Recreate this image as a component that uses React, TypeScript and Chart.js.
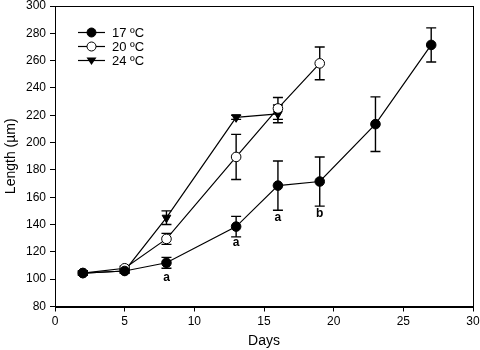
import React, { useEffect, useRef } from "react";
import { Chart, registerables } from "chart.js";

Chart.register(...registerables);

const days17 = [2, 5, 8, 13, 16, 19, 23, 27];
const len17 = [104.5, 106, 112, 138.5, 168.5, 171.5, 213.5, 271.5];
const err17 = [1.5, 1.5, 4, 7.5, 18, 18, 20, 12.5];

const days20 = [2, 5, 8, 13, 16, 19];
const len20 = [104.5, 108, 129.5, 189.5, 225, 258];
const err20 = [1.5, 1.5, 4, 16.5, 8, 12];

const days24 = [2, 5, 8, 13, 16];
const len24 = [104.5, 106, 145, 218.5, 221];
const err24 = [1.5, 1.5, 5, 1.5, 6.5];

const seriesNames = ["17 ºC", "20 ºC", "24 ºC"];

const letterDays = [8, 13, 16, 19];
const letterY = [101, 127, 145, 148];
const letterText = ["a", "a", "a", "b"];

const FONT = "'Liberation Sans', Arial, sans-serif";

const series = [
  { days: days17, len: len17, err: err17, style: "filled" },
  { days: days20, len: len20, err: err20, style: "open" },
  { days: days24, len: len24, err: err24, style: "tri" },
];

function drawMarker(ctx: CanvasRenderingContext2D, style: string, x: number, y: number) {
  ctx.save();
  ctx.lineWidth = 1;
  ctx.strokeStyle = "#000";
  if (style === "tri") {
    const r = 5;
    ctx.beginPath();
    ctx.moveTo(x - r, y - r * 0.6);
    ctx.lineTo(x + r, y - r * 0.6);
    ctx.lineTo(x, y + r * 0.9);
    ctx.closePath();
    ctx.fillStyle = "#000";
    ctx.fill();
  } else {
    ctx.beginPath();
    ctx.arc(x, y, 4.5, 0, Math.PI * 2);
    ctx.fillStyle = style === "filled" ? "#000" : "#fff";
    ctx.fill();
    ctx.stroke();
  }
  ctx.restore();
}

const frameAndExtras = {
  id: "frameAndExtras",
  beforeDatasetsDraw(chart: any) {
    const { ctx, scales } = chart;
    const xs = scales.x;
    const ys = scales.y;
    ctx.save();
    ctx.strokeStyle = "#000";
    ctx.lineWidth = 1.4;
    series.forEach((s) => {
      s.days.forEach((d, i) => {
        const e = s.err[i];
        const x = xs.getPixelForValue(d);
        const yt = ys.getPixelForValue(s.len[i] + e);
        const yb = ys.getPixelForValue(s.len[i] - e);
        ctx.beginPath();
        ctx.moveTo(x, yt);
        ctx.lineTo(x, yb);
        ctx.moveTo(x - 5, yt);
        ctx.lineTo(x + 5, yt);
        ctx.moveTo(x - 5, yb);
        ctx.lineTo(x + 5, yb);
        ctx.stroke();
      });
    });
    ctx.restore();
  },
  afterDraw(chart: any) {
    const { ctx, chartArea, scales } = chart;
    ctx.save();
    ctx.strokeStyle = "#000";
    ctx.lineWidth = 1;
    ctx.strokeRect(
      Math.round(chartArea.left) + 0.5,
      Math.round(chartArea.top) + 0.5,
      Math.round(chartArea.right - chartArea.left),
      Math.round(chartArea.bottom - chartArea.top)
    );
    // letters
    ctx.fillStyle = "#000";
    ctx.font = `bold 12px ${FONT}`;
    ctx.textAlign = "center";
    ctx.textBaseline = "middle";
    letterDays.forEach((d, i) => {
      ctx.fillText(letterText[i], scales.x.getPixelForValue(d), scales.y.getPixelForValue(letterY[i]));
    });
    // legend
    const lx0 = 78;
    const lx1 = 105;
    const rows = [32, 46, 60];
    ctx.font = `13px ${FONT}`;
    ctx.textAlign = "left";
    series.forEach((s, i) => {
      const y = rows[i];
      ctx.beginPath();
      ctx.lineWidth = 1.2;
      ctx.moveTo(lx0, y + 0.5);
      ctx.lineTo(lx1, y + 0.5);
      ctx.stroke();
      drawMarker(ctx, s.style, (lx0 + lx1) / 2, y + 0.5);
      ctx.fillStyle = "#000";
      ctx.fillText(seriesNames[i], 112, y + 1);
    });
    ctx.restore();
  },
};

export default function App() {
  const ref = useRef<HTMLCanvasElement | null>(null);
  useEffect(() => {
    document.body.style.margin = "0";
    const mk = (s: any) => s.days.map((d: number, i: number) => ({ x: d, y: s.len[i] }));
    const chart = new Chart(ref.current as HTMLCanvasElement, {
      type: "line",
      data: {
        datasets: [
          {
            label: seriesNames[0],
            data: mk(series[0]),
            borderColor: "#000",
            borderWidth: 1.2,
            pointStyle: "circle",
            pointRadius: 4.8,
            pointBackgroundColor: "#000",
            pointBorderColor: "#000",
            pointBorderWidth: 1,
          },
          {
            label: seriesNames[1],
            data: mk(series[1]),
            borderColor: "#000",
            borderWidth: 1.2,
            pointStyle: "circle",
            pointRadius: 4.8,
            pointBackgroundColor: "#fff",
            pointBorderColor: "#000",
            pointBorderWidth: 1,
          },
          {
            label: seriesNames[2],
            data: mk(series[2]),
            borderColor: "#000",
            borderWidth: 1.2,
            pointStyle: "triangle",
            rotation: 180,
            pointRadius: 5,
            pointBackgroundColor: "#000",
            pointBorderColor: "#000",
            pointBorderWidth: 1,
          } as any,
        ],
      },
      options: {
        animation: false,
        responsive: false,
        maintainAspectRatio: false,
        layout: { padding: { top: 5, right: 7, left: 0, bottom: 0 } },
        plugins: { legend: { display: false }, tooltip: { enabled: false } },
        scales: {
          x: {
            type: "linear",
            min: 0,
            max: 30,
            ticks: { stepSize: 5, color: "#000", font: { family: FONT, size: 12 }, padding: 3 },
            grid: { drawOnChartArea: false, drawTicks: true, tickLength: 5, tickColor: "#000" },
            border: { color: "#000", width: 1 },
            title: { display: true, text: "Days", color: "#000", font: { family: FONT, size: 14 }, padding: { top: 0, bottom: 0 } },
            afterFit: (s: any) => {
              s.height = 43.5;
              s.paddingLeft = 0;
              s.paddingRight = 0;
            },
          },
          y: {
            type: "linear",
            min: 80,
            max: 300,
            ticks: { stepSize: 20, color: "#000", font: { family: FONT, size: 12 }, padding: 4 },
            grid: { drawOnChartArea: false, drawTicks: true, tickLength: 5, tickColor: "#000" },
            border: { color: "#000", width: 1 },
            title: { display: true, text: "Length (µm)", color: "#000", font: { family: FONT, size: 14 }, padding: { top: 3, bottom: 0 } },
            afterFit: (s: any) => {
              s.width = 55;
              s.paddingTop = 0;
              s.paddingBottom = 0;
            },
          },
        },
      },
      plugins: [frameAndExtras],
    });
    return () => chart.destroy();
  }, []);
  return (
    <div style={{ position: "fixed", left: 0, top: 0, width: 480, height: 350, background: "#fff" }}>
      <canvas ref={ref} width={480} height={350} />
    </div>
  );
}
